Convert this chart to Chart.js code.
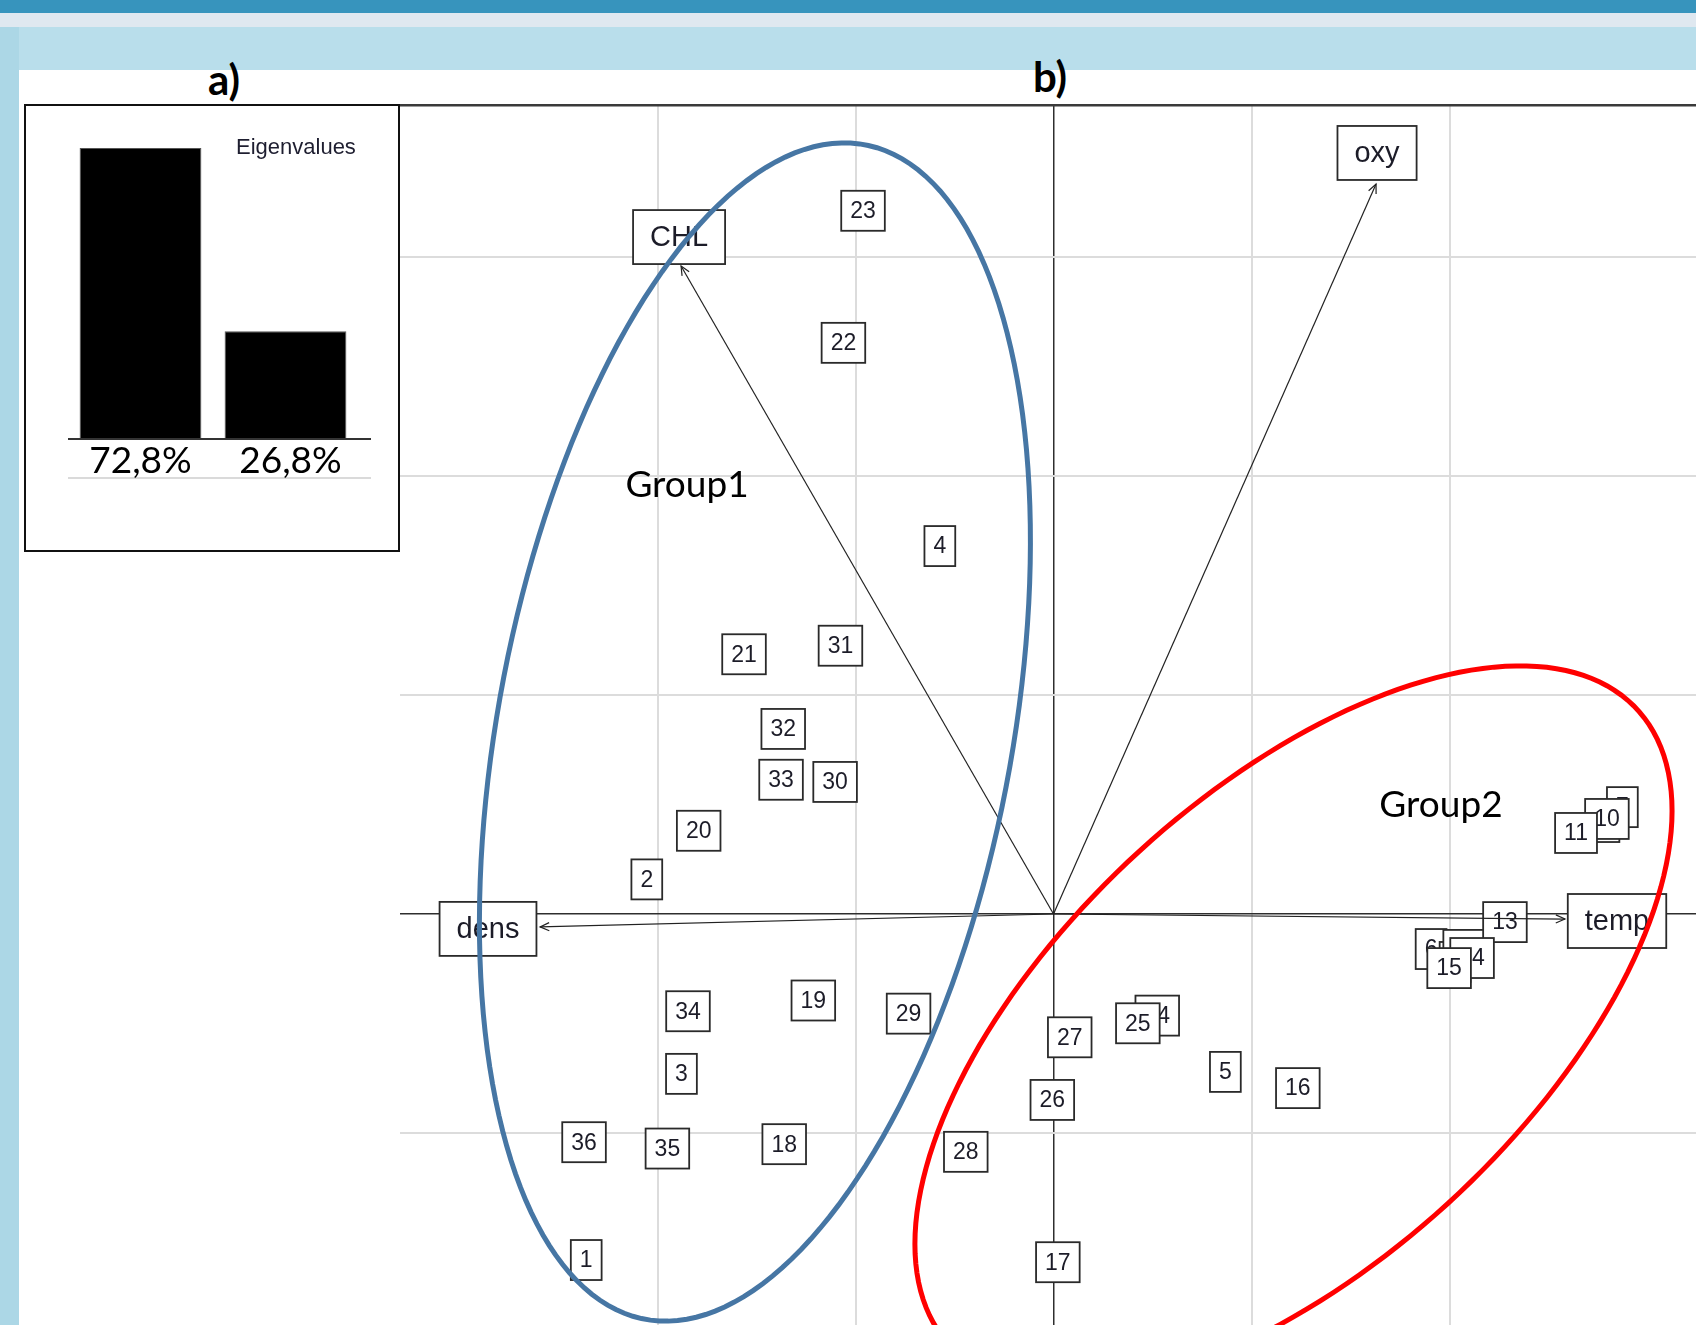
<!DOCTYPE html>
<html>
<head>
<meta charset="utf-8">
<script src="https://cdn.jsdelivr.net/npm/chart.js@4.4.1/dist/chart.umd.min.js"></script>
<style>
  html, body { margin: 0; padding: 0; }
  body { width: 1696px; height: 1325px; overflow: hidden; background: #fff; position: relative; }
  .band { position: absolute; left: 0; width: 1696px; }
  #b1 { top: 0; height: 13px; background: #3794bd; }
  #b2 { top: 13px; height: 14px; background: #dfe8f0; }
  #b3 { top: 27px; height: 43px; background: #b9deeb; }
  #side { position: absolute; left: 0; top: 27px; width: 19px; height: 1298px; background: #acd7e6; }
  .tag { position: absolute; font: bold 42px Lato, "Open Sans", sans-serif; color: #000;
         transform: translate(-50%, -50%); line-height: 1; }
  #eig { position: absolute; left: 24px; top: 104px; width: 376px; height: 448px;
         border: 2px solid #111; box-sizing: border-box; background: #fff; }
  #main { position: absolute; left: 400px; top: 104px; width: 1296px; height: 1221px; }
  .fill { position: relative; width: 100%; height: 100%; }
</style>
</head>
<body>
<div class="band" id="b1"></div>
<div class="band" id="b2"></div>
<div class="band" id="b3"></div>
<div id="side"></div>
<div class="tag" style="left:224px; top:79px;">a)</div>
<div class="tag" style="left:1050px; top:76px;">b)</div>

<div id="eig"><div class="fill"><canvas id="eigCanvas"></canvas></div></div>
<div id="main"><div class="fill"><canvas id="pcaCanvas"></canvas></div></div>

<script>
// ---- eigenvalue bars (% of inertia) ----
const eigenValues = [72.8, 26.8];
const eigenLabels = eigenValues.map(v => v.toFixed(1).replace('.', ',') + '%');

// ---- sampling stations (row scores) ----
const obsLabels = ['1','2','3','4','5','6','7','8','9','10','11','12','13','14','15','16','17','18',
                   '19','20','21','22','23','24','25','26','27','28','29','30','31','32','33','34','35','36'];
const obsX = [-2.360, -2.054, -1.879, -0.574, 0.868, 1.907, 2.873, 2.028, 2.780, 2.795, 2.639, 2.079,
              2.280, 2.114, 1.998, 1.234, 0.022, -1.360, -1.213, -1.792, -1.563, -1.061, -0.962, 0.524,
              0.426, -0.006, 0.082, -0.443, -0.732, -1.103, -1.076, -1.365, -1.376, -1.846, -1.950, -2.371];
const obsY = [-1.580, 0.158, -0.730, 1.680, -0.721, -0.160, 0.488, -0.219, 0.420, 0.434, 0.370, -0.164,
              -0.037, -0.201, -0.247, -0.795, -1.590, -1.051, -0.395, 0.380, 1.186, 2.608, 3.211, -0.464,
              -0.499, -0.849, -0.563, -1.086, -0.455, 0.603, 1.225, 0.845, 0.613, -0.444, -1.071, -1.042];

// ---- environmental variables (column scores, arrows from origin) ----
const varNames  = ['CHL', 'oxy', 'temp', 'dens'];
const varX      = [-1.881, 1.629, 2.583, -2.593];
const varY      = [2.959, 3.333, -0.023, -0.059];
const varLabelX = [-1.891, 1.634, 2.846, -2.856];
const varLabelY = [3.091, 3.475, -0.032, -0.068];

// ---- groups: name, centre and two conjugate semi-axes of each ellipse ----
const groupNames   = ['Group1', 'Group2'];
const groupX       = [-1.851, 1.957];
const groupY       = [1.959, 0.498];
const ellipseCX    = [-1.508, 1.212];
const ellipseCY    = [0.831, -0.518];
const ellipseU     = [[0.437, 2.690], [1.912, 0.989]];
const ellipseV     = [[1.321, 0.029], [0.000, -1.322]];
const ellipseColor = ['#4676a4', '#ff0000'];

// ---- axis window ----
const X_MIN = -3.3005, X_MAX = 3.2449, Y_MIN = -1.8767, Y_MAX = 3.6986;

const LABEL_FONT = "23px 'Liberation Sans', Arial, sans-serif";
const VAR_FONT   = "29px 'Liberation Sans', Arial, sans-serif";
const GROUP_FONT = "37px Lato, 'Open Sans', sans-serif";

function labelBox(ctx, text, x, y, font, padX, h) {
  ctx.save();
  ctx.font = font;
  const w = ctx.measureText(text).width + 2 * padX;
  ctx.fillStyle = '#fff';
  ctx.fillRect(x - w / 2, y - h / 2, w, h);
  ctx.strokeStyle = '#2a2a2a';
  ctx.lineWidth = 1.8;
  ctx.strokeRect(x - w / 2, y - h / 2, w, h);
  ctx.fillStyle = '#1c1c28';
  ctx.textAlign = 'center';
  ctx.textBaseline = 'middle';
  ctx.fillText(text, x, y + 1);
  ctx.restore();
}

// eigenvalue panel decorations
const eigenDecor = {
  id: 'eigenDecor',
  afterDraw(chart) {
    const ctx = chart.ctx, a = chart.chartArea, xs = chart.scales.x;
    ctx.save();
    ctx.strokeStyle = '#dadada';
    ctx.lineWidth = 2;
    ctx.beginPath(); ctx.moveTo(a.left, a.bottom + 40); ctx.lineTo(a.left + 303, a.bottom + 40); ctx.stroke();
    ctx.strokeStyle = '#333';
    ctx.lineWidth = 2;
    ctx.beginPath(); ctx.moveTo(a.left, a.bottom + 1); ctx.lineTo(a.left + 303, a.bottom + 1); ctx.stroke();
    ctx.fillStyle = '#000';
    ctx.font = GROUP_FONT;
    ctx.textAlign = 'center';
    ctx.textBaseline = 'middle';
    eigenLabels.forEach((t, i) => ctx.fillText(t, xs.getPixelForValue(i) + (i ? 5 : 0), a.bottom + 23));
    ctx.fillStyle = '#1e1e30';
    ctx.font = "22px 'Liberation Sans', Arial, sans-serif";
    ctx.textAlign = 'left';
    ctx.textBaseline = 'alphabetic';
    ctx.fillText('Eigenvalues', 210, 48);
    ctx.restore();
  }
};

new Chart(document.getElementById('eigCanvas'), {
  type: 'bar',
  data: {
    labels: eigenLabels,
    datasets: [{ data: eigenValues, backgroundColor: '#000', borderColor: '#555', borderWidth: 1,
                 barPercentage: 0.84, categoryPercentage: 1 }]
  },
  options: {
    responsive: true, maintainAspectRatio: false, animation: false, events: [],
    layout: { padding: { left: 42, right: 40, top: 42, bottom: 112 } },
    plugins: { legend: { display: false }, tooltip: { enabled: false } },
    scales: { x: { display: false }, y: { display: false, min: 0, max: eigenValues[0] } }
  },
  plugins: [eigenDecor]
});

// biplot decorations: station boxes, arrow heads, variable boxes, ellipses, group names
const biplotDecor = {
  id: 'biplotDecor',
  beforeDatasetsDraw(chart) {
    const ctx = chart.ctx, xs = chart.scales.x, ys = chart.scales.y;
    obsLabels.forEach((t, i) => {
      labelBox(ctx, t, xs.getPixelForValue(obsX[i]), ys.getPixelForValue(obsY[i]), LABEL_FONT, 9, 40);
    });
  },
  afterDatasetsDraw(chart) {
    const ctx = chart.ctx, xs = chart.scales.x, ys = chart.scales.y, a = chart.chartArea;
    const ox = xs.getPixelForValue(0), oy = ys.getPixelForValue(0);
    ctx.save();
    // arrow heads
    ctx.strokeStyle = '#222';
    ctx.lineWidth = 1.2;
    varNames.forEach((n, i) => {
      const ex = xs.getPixelForValue(varX[i]), ey = ys.getPixelForValue(varY[i]);
      const ang = Math.atan2(ey - oy, ex - ox);
      const L = 10, s = 0.42;
      ctx.beginPath();
      ctx.moveTo(ex - L * Math.cos(ang - s), ey - L * Math.sin(ang - s));
      ctx.lineTo(ex, ey);
      ctx.lineTo(ex - L * Math.cos(ang + s), ey - L * Math.sin(ang + s));
      ctx.stroke();
    });
    // variable labels
    varNames.forEach((n, i) => {
      labelBox(ctx, n, xs.getPixelForValue(varLabelX[i]), ys.getPixelForValue(varLabelY[i]), VAR_FONT, 17, 54);
    });
    // frame top
    ctx.strokeStyle = '#3a3a3a';
    ctx.lineWidth = 3;
    ctx.beginPath(); ctx.moveTo(a.left, a.top + 1); ctx.lineTo(a.right, a.top + 1); ctx.stroke();
    // group ellipses
    ctx.beginPath(); ctx.rect(a.left, a.top, a.right - a.left, a.bottom - a.top); ctx.clip();
    groupNames.forEach((g, k) => {
      ctx.strokeStyle = ellipseColor[k];
      ctx.lineWidth = 5;
      ctx.beginPath();
      for (let s = 0; s <= 360; s += 2) {
        const t = s * Math.PI / 180;
        const dx = ellipseCX[k] + ellipseU[k][0] * Math.cos(t) + ellipseV[k][0] * Math.sin(t);
        const dy = ellipseCY[k] + ellipseU[k][1] * Math.cos(t) + ellipseV[k][1] * Math.sin(t);
        const px = xs.getPixelForValue(dx), py = ys.getPixelForValue(dy);
        if (s === 0) ctx.moveTo(px, py); else ctx.lineTo(px, py);
      }
      ctx.closePath();
      ctx.stroke();
    });
    // group names
    ctx.fillStyle = '#000';
    ctx.font = GROUP_FONT;
    ctx.textAlign = 'center';
    ctx.textBaseline = 'middle';
    groupNames.forEach((g, k) => ctx.fillText(g, xs.getPixelForValue(groupX[k]), ys.getPixelForValue(groupY[k])));
    ctx.restore();
  }
};

const isWhole = v => Math.abs(v - Math.round(v)) < 1e-6;
const zeroLine = c => Math.abs(c.tick.value) < 1e-6;

const datasets = [{
  label: 'stations',
  data: obsX.map((x, i) => ({ x: x, y: obsY[i] })),
  pointRadius: 0, showLine: false
}];
varNames.forEach((n, i) => datasets.push({
  label: n,
  data: [{ x: 0, y: 0 }, { x: varX[i], y: varY[i] }],
  showLine: true, borderColor: '#222', borderWidth: 1.2, pointRadius: 0, fill: false
}));

new Chart(document.getElementById('pcaCanvas'), {
  type: 'scatter',
  data: { datasets: datasets },
  options: {
    responsive: true, maintainAspectRatio: false, animation: false, events: [],
    layout: { padding: 0 },
    plugins: { legend: { display: false }, tooltip: { enabled: false } },
    scales: {
      x: {
        type: 'linear', min: X_MIN, max: X_MAX,
        ticks: { display: false, stepSize: 1 },
        grid: { drawTicks: false, color: c => zeroLine(c) ? '#2e2e2e' : '#dcdcdc',
                lineWidth: c => zeroLine(c) ? 1.5 : 2 },
        border: { display: false },
        afterBuildTicks: s => { s.ticks = s.ticks.filter(t => isWhole(t.value) && t.value > -2.5); }
      },
      y: {
        type: 'linear', min: Y_MIN, max: Y_MAX,
        ticks: { display: false, stepSize: 1 },
        grid: { drawTicks: false, color: c => zeroLine(c) ? '#2e2e2e' : '#dcdcdc',
                lineWidth: c => zeroLine(c) ? 1.5 : 2 },
        border: { display: false },
        afterBuildTicks: s => { s.ticks = s.ticks.filter(t => isWhole(t.value)); }
      }
    }
  },
  plugins: [biplotDecor]
});
</script>
</body>
</html>
